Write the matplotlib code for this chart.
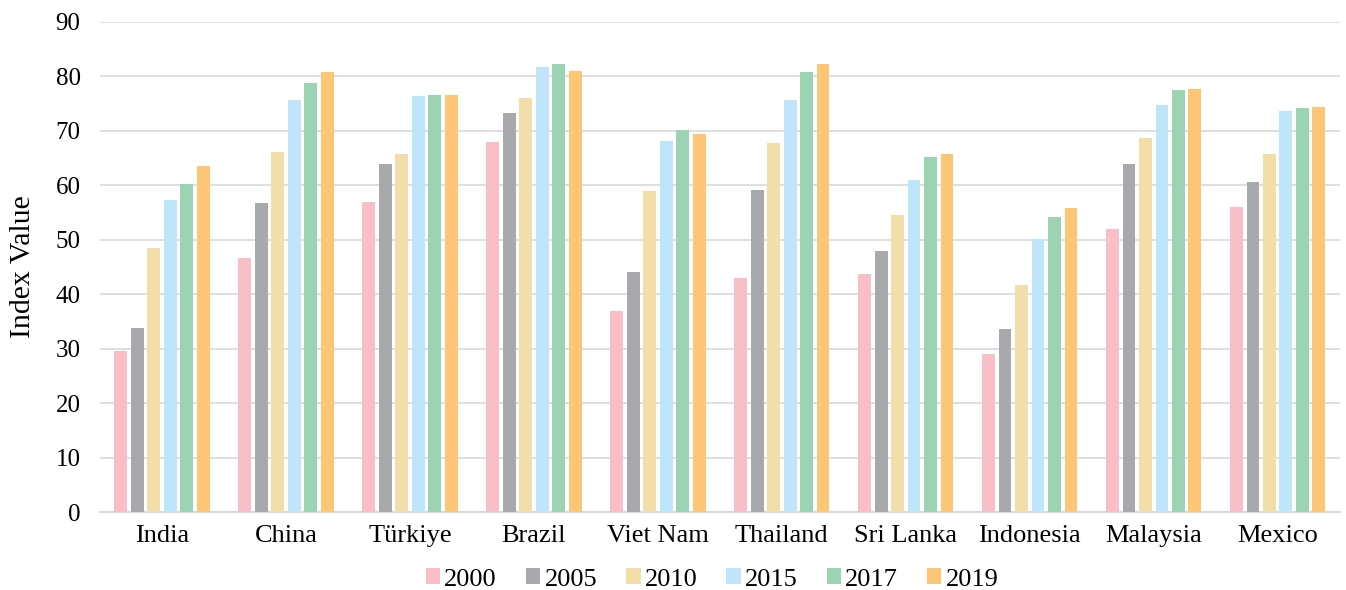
import matplotlib
matplotlib.use("Agg")
from matplotlib import pyplot as plt
import numpy as np

# countries and yearly index values
countries = ["India", "China", "Türkiye", "Brazil", "Viet Nam", "Thailand",
             "Sri Lanka", "Indonesia", "Malaysia", "Mexico"]
years = ["2000", "2005", "2010", "2015", "2017", "2019"]

v2000 = [29.5, 46.6, 57.0, 68.0, 36.9, 43.0, 43.7, 29.0, 51.9, 56.0]
v2005 = [33.8, 56.7, 63.9, 73.3, 44.0, 59.1, 48.0, 33.6, 63.9, 60.6]
v2010 = [48.4, 66.1, 65.7, 76.0, 59.0, 67.7, 54.6, 41.7, 68.7, 65.7]
v2015 = [57.3, 75.7, 76.3, 81.8, 68.2, 75.6, 60.9, 50.1, 74.8, 73.6]
v2017 = [60.3, 78.8, 76.6, 82.3, 70.1, 80.7, 65.2, 54.1, 77.4, 74.1]
v2019 = [63.6, 80.8, 76.6, 81.0, 69.5, 82.2, 65.7, 55.8, 77.7, 74.4]

series = [v2000, v2005, v2010, v2015, v2017, v2019]
colors = ["#F8BFC8", "#A8A9AD", "#F2DEA8", "#BEE5F9", "#9CD3B2", "#FDC676"]

plt.rcParams['font.family'] = ['Liberation Serif', 'DejaVu Serif']

fig = plt.figure(figsize=(13.46, 5.9), dpi=100)
ax = fig.add_axes([0.0743, 0.132, 0.921, 0.831])

x = np.arange(len(countries))
step = 0.133
width = 0.104
for i, (vals, c, yr) in enumerate(zip(series, colors, years)):
    offs = (i - 2.5) * step
    ax.bar(x + offs, vals, width, color=c, label=yr, zorder=3)

ax.set_xlim(-0.5, len(countries) - 0.5)
ax.set_ylim(0, 90)
ax.set_yticks(range(0, 91, 10))
ax.set_xticks(x)
ax.set_xticklabels(countries, fontsize=19)
ax.tick_params(axis='y', labelsize=18, length=0, pad=14)
ax.tick_params(axis='x', length=0, pad=9)

ax.grid(axis='y', color='#D9D9D9', lw=1.2, zorder=0)
for s in ['top', 'right', 'left']:
    ax.spines[s].set_visible(False)
ax.spines['bottom'].set_color('#D9D9D9')
ax.spines['bottom'].set_linewidth(1.5)

ax.set_ylabel("Index Value", fontsize=21.5, labelpad=14)

fig.legend(loc='center', bbox_to_anchor=(0.529, 0.018), ncol=6, frameon=False,
           fontsize=19, handlelength=0.55, handleheight=0.55, handletextpad=0.15,
           columnspacing=1.1)

plt.savefig("out.png", dpi=100)
